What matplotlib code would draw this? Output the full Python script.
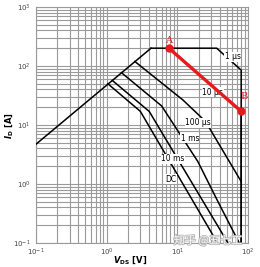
import matplotlib
matplotlib.use("Agg")
import matplotlib.pyplot as plt
import matplotlib.patheffects as pe

# safe operating area, V_DS [V] vs I_D [A]
ron_v = [0.1, 4.25]
ron_i = [4.7, 200]

us1_v = [4.25, 36, 80, 80]
us1_i = [200, 200, 85, 0.1]

us10_v = [7.6, 80, 80]
us10_i = [200, 17, 0.1]

us100_v = [2.51, 12, 25, 80]
us100_i = [119, 26.5, 11.5, 1.1]

ms1_v = [1.62, 6, 19.5, 36.4, 75]
ms1_i = [77, 21, 2.4, 0.54, 0.1]

ms10_v = [1.2, 4, 52]
ms10_i = [57, 17, 0.1]

dc_v = [1.04, 3, 37]
dc_i = [50, 17, 0.1]

# highlighted segment A -> B
ab_v = [7.6, 80]
ab_i = [200, 17]

fig = plt.figure(figsize=(2.6, 2.67), dpi=100)
ax = fig.add_axes([0.138, 0.09, 0.816, 0.884])
ax.set_xscale('log')
ax.set_yscale('log')
ax.set_xlim(0.1, 100)
ax.set_ylim(0.1, 1000)

ax.grid(True, which='both', color='#9a9a9a', lw=0.8)
for s in ax.spines.values():
    s.set_color('#9a9a9a')
    s.set_linewidth(0.8)
ax.tick_params(which='both', length=0, labelsize=5, labelcolor='#444444')
ax.tick_params(axis='y', pad=4)
ax.tick_params(axis='x', pad=3)

k = dict(color='black', lw=1.1, zorder=3)
ax.plot(ron_v, ron_i, **k)
ax.plot(us1_v, us1_i, **k)
ax.plot(us10_v, us10_i, **k)
ax.plot(us100_v, us100_i, **k)
ax.plot(ms1_v, ms1_i, **k)
ax.plot(ms10_v, ms10_i, **k)
ax.plot(dc_v, dc_i, **k)

ax.plot(ab_v, ab_i, color='#e8191c', lw=2.4, marker='o', ms=5, zorder=5)
ax.text(7.6, 265, 'A', color='#e8191c', fontsize=7, family='DejaVu Serif', ha='center', va='center', zorder=6)
ax.text(88, 30, 'B', color='#e8191c', fontsize=7, family='DejaVu Serif', ha='center', va='center', zorder=6)

lab = dict(fontsize=5.5, ha='center', va='center', zorder=4,
           bbox=dict(facecolor='white', edgecolor='none', pad=0.3))
ax.text(61, 142, '1 µs', **lab)
ax.text(31.8, 36, '10 µs', **lab)
ax.text(19.5, 10.8, '100 µs', **lab)
ax.text(15, 6, '1 ms', **lab)
ax.text(8.7, 2.65, '10 ms', **lab)
ax.text(8.1, 1.2, 'DC', **lab)

fig.text(0.5, 0.027, r'$\boldsymbol{V}_{\mathbf{DS}}$ [V]', fontsize=6, fontweight='bold', ha='center', va='center')
fig.text(0.035, 0.53, r'$\boldsymbol{I}_{\mathbf{D}}$ [A]', fontsize=6, fontweight='bold', ha='center', va='center', rotation=90)

fig.text(0.80, 0.10, '知乎 @五七工', fontsize=8, color='white', alpha=0.9,
         family=['Noto Sans CJK SC', 'DejaVu Sans'], ha='center', va='center', zorder=10,
         path_effects=[pe.withStroke(linewidth=1.2, foreground='#b0b0b0')])

fig.savefig('out.png', dpi=100)
